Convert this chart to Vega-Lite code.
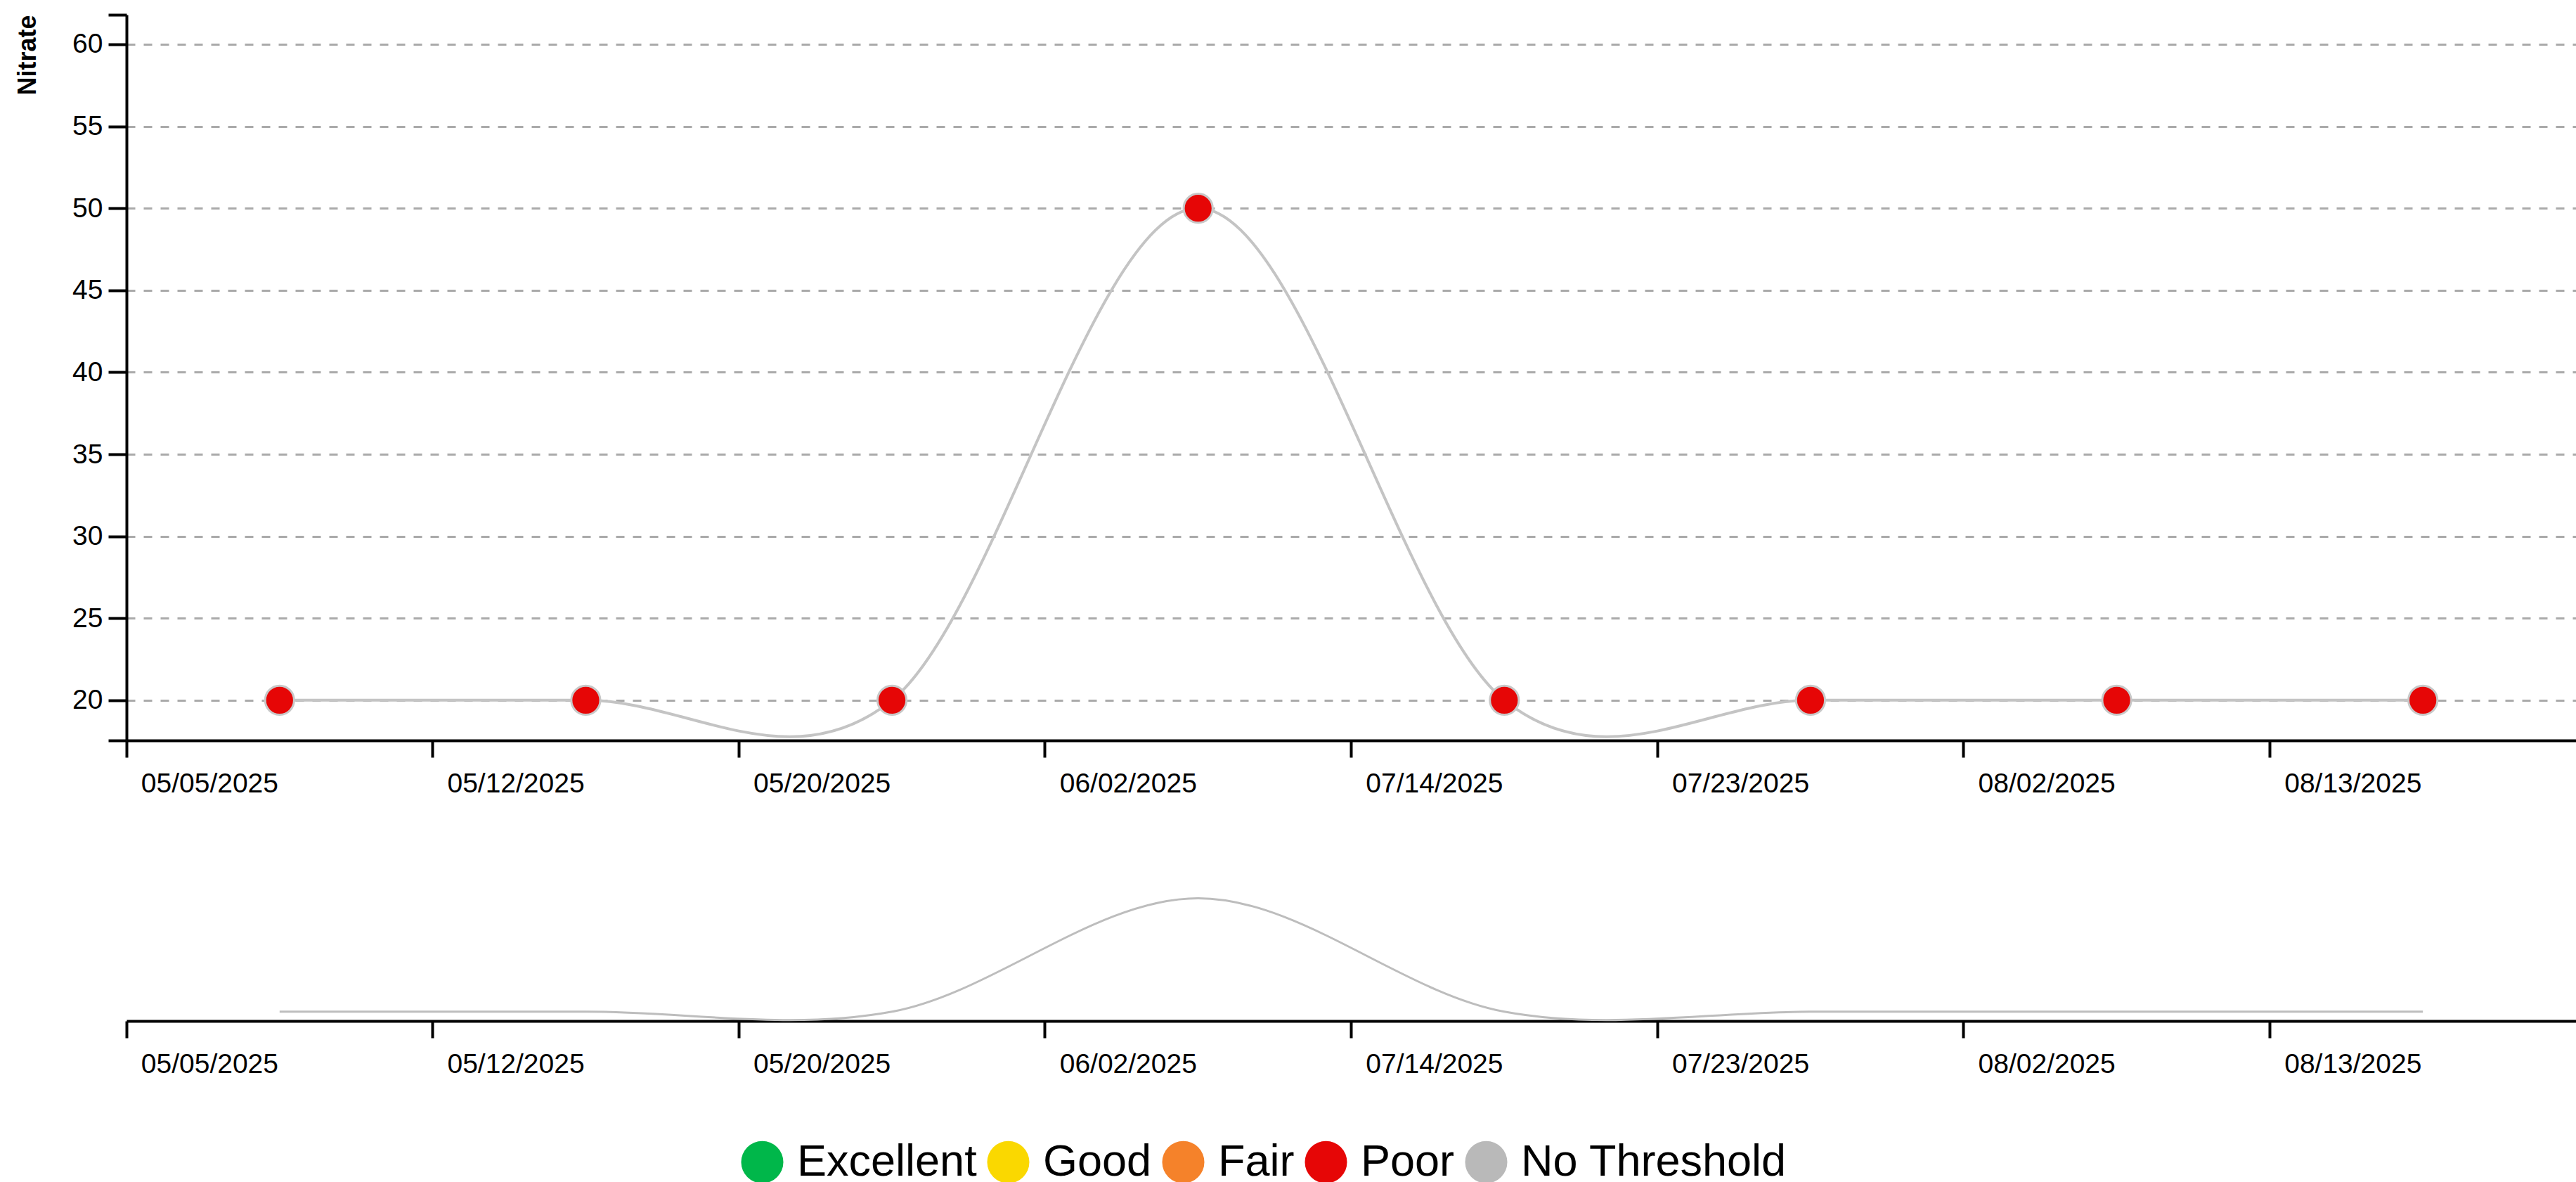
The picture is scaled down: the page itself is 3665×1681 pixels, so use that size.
{
  "$schema": "https://vega.github.io/schema/vega-lite/v6.json",
  "autosize": {"type": "pad"},
  "padding": {"left": 21, "top": 19, "right": 0, "bottom": 0},
  "background": "white",
  "config": {
    "view": {"stroke": null},
    "font": "Liberation Sans",
    "axis": {"labelFont": "Liberation Sans", "titleFont": "Liberation Sans"},
    "legend": {"labelFont": "Liberation Sans"}
  },
  "data": {
    "values": [
      {"date": "05/05/2025", "value": 20, "status": "Poor"},
      {"date": "05/12/2025", "value": 20, "status": "Poor"},
      {"date": "05/20/2025", "value": 20, "status": "Poor"},
      {"date": "06/02/2025", "value": 50, "status": "Poor"},
      {"date": "07/14/2025", "value": 20, "status": "Poor"},
      {"date": "07/23/2025", "value": 20, "status": "Poor"},
      {"date": "08/02/2025", "value": 20, "status": "Poor"},
      {"date": "08/13/2025", "value": 20, "status": "Poor"}
    ]
  },
  "spacing": 80,
  "resolve": {"scale": {"y": "independent", "x": "shared"}},
  "vconcat": [
    {
      "width": 3485,
      "height": 1032,
      "encoding": {
        "x": {
          "field": "date", "type": "ordinal", "sort": null,
          "scale": {"type": "band", "paddingInner": 0, "paddingOuter": 0},
          "axis": {
            "title": null, "bandPosition": 0, "labelAlign": "left", "labelOffset": -197,
            "labelPadding": 18, "labelBaseline": "top", "labelAngle": 0, "labelFontSize": 39,
            "labelColor": "black", "labelOverlap": false, "labelFlush": false, "labelBound": false,
            "labelLimit": 0,
            "tickSize": 24, "tickWidth": 4, "tickColor": "black",
            "domainColor": "black", "domainWidth": 4, "grid": false
          }
        },
        "y": {
          "field": "value", "type": "quantitative",
          "scale": {"domain": [17.55, 61.8], "nice": false, "zero": false},
          "axis": {
            "values": [17.55, 20, 25, 30, 35, 40, 45, 50, 55, 60, 61.8],
            "labelExpr": "datum.value % 5 === 0 ? datum.label : ''",
            "labelFontSize": 39, "labelColor": "black", "labelPadding": 8,
            "tickSize": 26, "tickWidth": 4, "tickColor": "black",
            "domainColor": "black", "domainWidth": 4,
            "grid": true, "gridDash": [12, 12], "gridColor": "#aaaaaa", "gridWidth": 3,
            "gridOpacity": {"condition": {"test": "datum.value % 5 !== 0", "value": 0}, "value": 1},
            "title": "Nitrate", "titleFontSize": 36, "titleFontWeight": "bold", "titleColor": "black",
            "titleAngle": -90, "titleAlign": "right", "titleBaseline": "alphabetic",
            "titleX": -130, "titleY": 0
          }
        }
      },
      "layer": [
        {
          "mark": {"type": "line", "interpolate": "cardinal", "color": "#c4c4c4", "strokeWidth": 4}
        },
        {
          "mark": {"type": "circle", "opacity": 1, "stroke": "#c8c8c8", "strokeWidth": 3, "size": 1700},
          "encoding": {
            "color": {
              "field": "status", "type": "nominal",
              "scale": {
                "domain": ["Excellent", "Good", "Fair", "Poor", "No Threshold"],
                "range": ["#00b74a", "#fad800", "#f5822a", "#e60606", "#b9b9b9"]
              },
              "legend": {
                "title": null, "orient": "none", "direction": "horizontal",
                "legendX": 873, "legendY": 1600,
                "symbolType": "circle", "symbolSize": 3600, "symbolStrokeWidth": 0, "symbolOpacity": 1,
                "labelFontSize": 63, "labelColor": "black", "labelOffset": 18, "columnPadding": 13,
                "labelLimit": 0
              }
            }
          }
        }
      ]
    },
    {
      "width": 3485,
      "height": 238,
      "mark": {"type": "line", "interpolate": "cardinal", "color": "#bdbdbd", "strokeWidth": 3},
      "encoding": {
        "x": {
          "field": "date", "type": "ordinal", "sort": null,
          "scale": {"type": "band", "paddingInner": 0, "paddingOuter": 0},
          "axis": {
            "title": null, "bandPosition": 0, "labelAlign": "left", "labelOffset": -197,
            "labelPadding": 18, "labelBaseline": "top", "labelAngle": 0, "labelFontSize": 39,
            "labelColor": "black", "labelOverlap": false, "labelFlush": false, "labelBound": false,
            "labelLimit": 0,
            "tickSize": 24, "tickWidth": 4, "tickColor": "black",
            "domainColor": "black", "domainWidth": 4, "grid": false
          }
        },
        "y": {
          "field": "value", "type": "quantitative",
          "scale": {"domain": [17.55, 61.8], "nice": false, "zero": false},
          "axis": null
        }
      }
    }
  ]
}
